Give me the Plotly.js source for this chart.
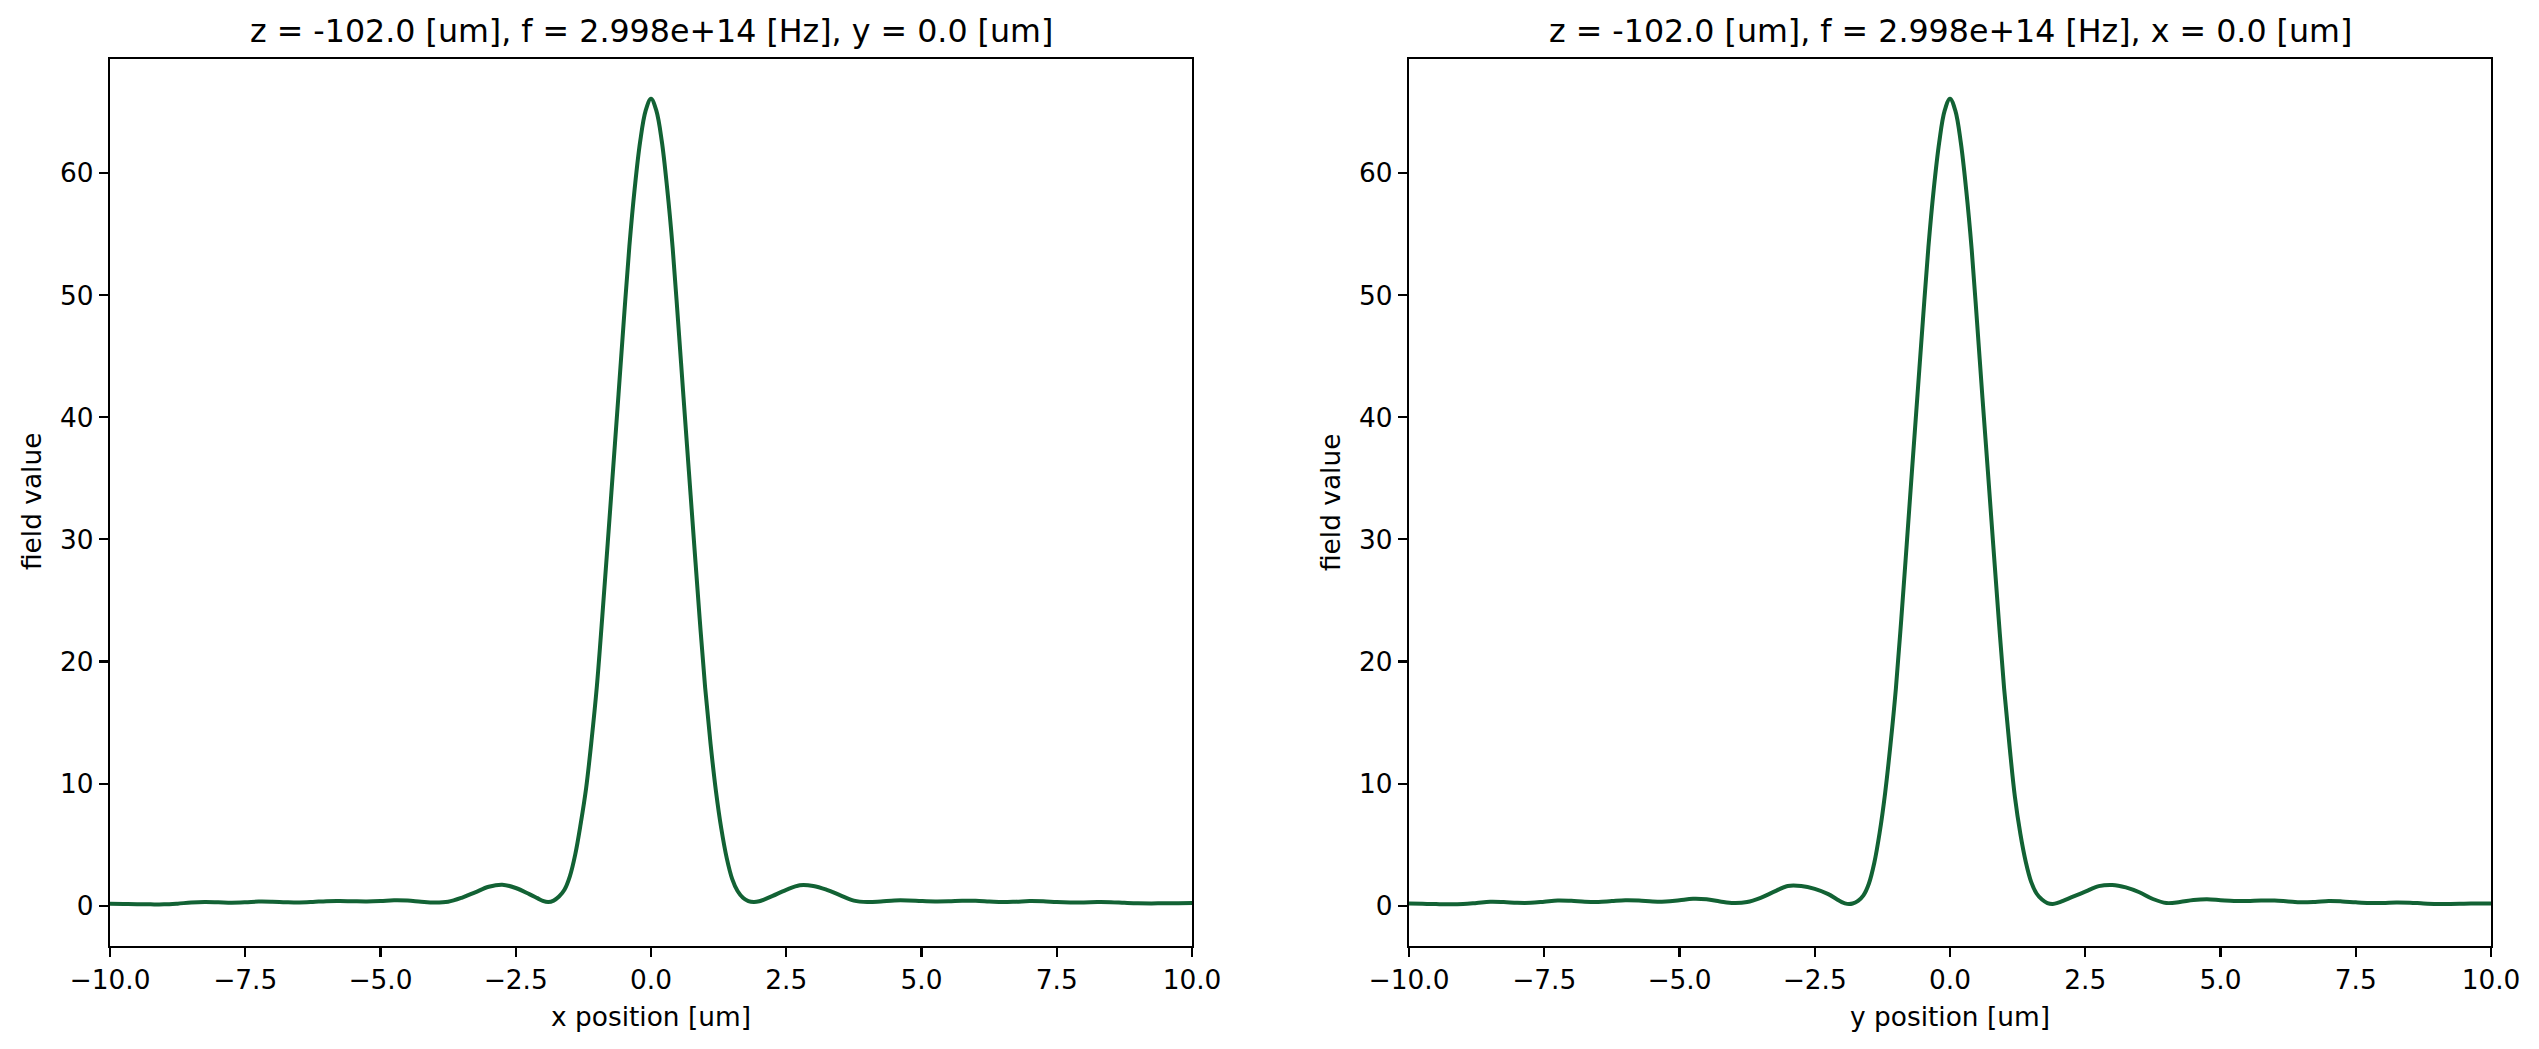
<!DOCTYPE html>
<html>
<head>
<meta charset="utf-8">
<script src="https://cdn.plot.ly/plotly-3.0.1.min.js"></script>
<style>
  body { margin: 0; background: #fff; }
  #grafico { width: 2539px; height: 1049px; }
</style>
</head>
<body>
<div id="grafico"></div>
<script>
// Dados
const posicoes = [
    -10, -9.75, -9.5, -9.25, -9, -8.75, -8.5, -8.25, -8, -7.75, -7.5, -7.25, -7, -6.75, -6.5, -6.25,
    -6, -5.75, -5.5, -5.25, -5, -4.75, -4.5, -4.25, -4, -3.75, -3.5, -3.25, -3, -2.75, -2.5, -2.25,
    -2.1, -2, -1.9, -1.8, -1.7, -1.6, -1.5, -1.4, -1.3, -1.2, -1.1, -1, -0.9, -0.8, -0.7, -0.6, -0.5,
    -0.4, -0.3, -0.2, -0.1, 0, 0.1, 0.2, 0.3, 0.4, 0.5, 0.6, 0.7, 0.8, 0.9, 1, 1.1, 1.2, 1.3, 1.4,
    1.5, 1.6, 1.7, 1.8, 1.9, 2, 2.1,
    2.25, 2.5, 2.75, 3, 3.25, 3.5, 3.75, 4, 4.25, 4.5, 4.75, 5, 5.25, 5.5, 5.75, 6, 6.25, 6.5, 6.75,
    7, 7.25, 7.5, 7.75, 8, 8.25, 8.5, 8.75, 9, 9.25, 9.5, 9.75, 10
];

// corte em x (y = 0)
const campoX = [
    0.16, 0.14, 0.12, 0.11, 0.11, 0.17, 0.26, 0.30, 0.28, 0.25, 0.28, 0.34, 0.33, 0.29, 0.27, 0.31,
    0.37, 0.38, 0.36, 0.35, 0.38, 0.44, 0.42, 0.33, 0.27, 0.33, 0.65, 1.10, 1.55, 1.72, 1.45, 0.95,
    0.62, 0.40, 0.30, 0.42, 0.75, 1.30, 2.40, 4.20, 6.70, 9.60, 13.5, 18.0, 23.7, 29.7, 35.8, 41.9, 48.1,
    54.0, 58.8, 62.6, 65.1, 66.1, 65.1, 62.6, 58.7, 53.9, 47.9, 41.7, 35.6, 29.5, 23.5, 17.9, 13.3, 9.4, 6.3, 3.9,
    2.2, 1.2, 0.65, 0.38, 0.30, 0.36, 0.52,
    0.80, 1.30, 1.68, 1.62, 1.30, 0.85, 0.42, 0.30, 0.35, 0.43, 0.43, 0.38, 0.35, 0.36, 0.40, 0.40, 0.35, 0.30, 0.33,
    0.38, 0.36, 0.30, 0.27, 0.27, 0.30, 0.29, 0.24, 0.20, 0.19, 0.20, 0.21, 0.22
];

// corte em y (x = 0)
const campoY = [
    0.19, 0.16, 0.13, 0.11, 0.13, 0.22, 0.32, 0.30, 0.24, 0.24, 0.33, 0.43, 0.40, 0.33, 0.31, 0.38,
    0.44, 0.42, 0.35, 0.34, 0.45, 0.56, 0.52, 0.35, 0.22, 0.30, 0.65, 1.15, 1.62, 1.62, 1.38, 0.95,
    0.55, 0.30, 0.15, 0.18, 0.40, 0.85, 1.80, 3.50, 6.00, 9.20, 13.2, 17.8, 23.5, 29.6, 35.8, 41.9, 48.0,
    53.9, 58.7, 62.5, 65.1, 66.1, 65.1, 62.5, 58.6, 53.8, 47.8, 41.6, 35.6, 29.5, 23.5, 17.8, 13.1, 8.9, 5.9, 3.6,
    1.95, 1.0, 0.5, 0.22, 0.15, 0.25, 0.42,
    0.70, 1.15, 1.60, 1.70, 1.50, 1.10, 0.55, 0.22, 0.30, 0.46, 0.52, 0.45, 0.38, 0.39, 0.43, 0.43, 0.35, 0.28, 0.31,
    0.38, 0.35, 0.28, 0.23, 0.23, 0.27, 0.25, 0.19, 0.15, 0.14, 0.16, 0.18, 0.19
];

const ticksX = [-10, -7.5, -5, -2.5, 0, 2.5, 5, 7.5, 10];
const ticksY = [0, 10, 20, 30, 40, 50, 60];

const tituloX = "z = -102.0 [um], f = 2.998e+14 [Hz], y = 0.0 [um]";
const tituloY = "z = -102.0 [um], f = 2.998e+14 [Hz], x = 0.0 [um]";

// Estilo
const W = 2539, H = 1049;
const fonte = "DejaVu Sans, Liberation Sans, sans-serif";
const verde = "#126234";

function px(v) { return v / W; }
function py(v) { return 1 - v / H; }

function eixoX(dominio) {
    return {
        domain: dominio, range: [-10, 10], tickvals: ticksX, tickformat: ".1f",
        ticks: "outside", ticklen: 9, tickwidth: 2.1, tickcolor: "#000",
        showline: true, linecolor: "#000", linewidth: 2.1, mirror: true,
        showgrid: false, zeroline: false, automargin: false,
        tickfont: { family: fonte, size: 26.4, color: "#000" }
    };
}

function eixoY(dominio) {
    return {
        domain: dominio, range: [-3.3, 69.35], tickvals: ticksY, tickformat: "d",
        ticks: "outside", ticklen: 9, tickwidth: 2.1, tickcolor: "#000",
        showline: true, linecolor: "#000", linewidth: 2.1, mirror: true,
        showgrid: false, zeroline: false, automargin: false,
        tickfont: { family: fonte, size: 26.4, color: "#000" }
    };
}

const domY = [py(946), py(59)];

var data = [
    { x: posicoes, y: campoX, xaxis: "x", yaxis: "y", mode: "lines", type: "scatter",
      line: { color: verde, width: 4, shape: "spline", smoothing: 1 } },
    { x: posicoes, y: campoY, xaxis: "x2", yaxis: "y2", mode: "lines", type: "scatter",
      line: { color: verde, width: 4, shape: "spline", smoothing: 1 } }
];

function texto(t, x, y, rot, tam) {
    return { text: t, xref: "paper", yref: "paper", x: x, y: y, showarrow: false,
             xanchor: "center", yanchor: "middle", textangle: rot,
             font: { family: fonte, size: tam, color: "#000" } };
}

var layout = {
    width: W, height: H,
    margin: { l: 0, r: 0, t: 0, b: 0 },
    paper_bgcolor: "#fff", plot_bgcolor: "#fff",
    showlegend: false,
    xaxis: Object.assign(eixoX([px(110), px(1192)]), { anchor: "y" }),
    yaxis: Object.assign(eixoY(domY), { anchor: "x" }),
    xaxis2: Object.assign(eixoX([px(1409), px(2491)]), { anchor: "y2" }),
    yaxis2: Object.assign(eixoY(domY), { anchor: "x2" }),
    annotations: [
        texto(tituloX, px(651), py(31), 0, 31.7),
        texto(tituloY, px(1950), py(31), 0, 31.7),
        texto("x position [um]", px(651), py(1016), 0, 26.4),
        texto("y position [um]", px(1950), py(1016), 0, 26.4),
        texto("field value", px(31), py(502), -90, 26.4),
        texto("field value", px(1330), py(502), -90, 26.4)
    ]
};

Plotly.newPlot("grafico", data, layout, { displayModeBar: false, staticPlot: true });
</script>
</body>
</html>
